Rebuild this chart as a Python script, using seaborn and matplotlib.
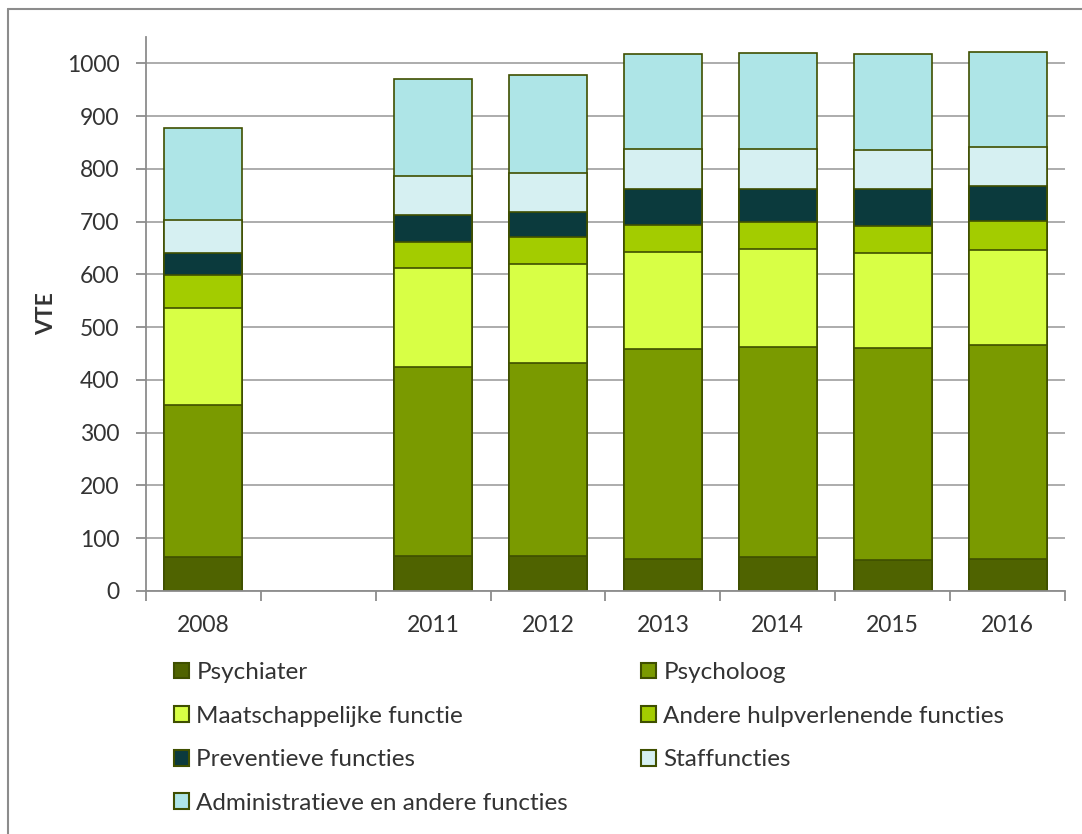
import numpy as np
import pandas as pd
import matplotlib.pyplot as plt
from matplotlib.patches import Patch
from matplotlib.lines import Line2D
import seaborn as sns

# data (VTE per year)
years = ['2008', '2011', '2012', '2013', '2014', '2015', '2016']
slots = ['2008', '', '2011', '2012', '2013', '2014', '2015', '2016']  # empty slot = gap 2009-2010
psychiater = [64, 66, 66, 61, 64, 59, 61]
psycholoog = [288, 358, 367, 398, 398, 402, 405]
maatschappelijk = [184, 188, 186, 184, 187, 179, 181]
andere = [63, 49, 51, 51, 50, 51, 54]
preventief = [42, 51, 49, 67, 62, 70, 67]
staf = [62, 75, 73, 77, 76, 75, 73]
admin = [175, 183, 186, 179, 182, 182, 180]

labels = ['Psychiater', 'Psycholoog', 'Maatschappelijke functie',
          'Andere hulpverlenende functies', 'Preventieve functies',
          'Staffuncties', 'Administratieve en andere functies']
colors = ['#4F6300', '#7A9A00', '#D8FF45', '#A3CC00', '#0B3A3D',
          '#D6F0F2', '#AEE5E7']
edge = '#3F4F00'

df = pd.DataFrame({'jaar': years, labels[0]: psychiater, labels[1]: psycholoog,
                   labels[2]: maatschappelijk, labels[3]: andere,
                   labels[4]: preventief, labels[5]: staf, labels[6]: admin})
cum = df[labels].cumsum(axis=1)

sns.set_theme(style='white')
plt.rcParams['font.family'] = ['Lato', 'DejaVu Sans']
txt = '#333333'

fig = plt.figure(figsize=(10.82, 8.34), dpi=100)
ax = fig.add_axes([0.1349, 0.2914, 0.8494, 0.6643])

# stacked bars: draw cumulative totals from the top layer down
for lab, col in zip(labels[::-1], colors[::-1]):
    sns.barplot(x=df['jaar'], y=cum[lab], order=slots, color=col, saturation=1,
                edgecolor=edge, linewidth=1.2, width=0.68, errorbar=None, ax=ax)

ax.set_ylim(0, 1050)
ax.set_xlim(-0.5, 7.5)
ax.set_yticks(range(0, 1001, 100))
ax.yaxis.grid(True, color='#A6A6A6', linewidth=1.3)
ax.set_axisbelow(True)
for s in ['top', 'right']:
    ax.spines[s].set_visible(False)
for s in ['left', 'bottom']:
    ax.spines[s].set_color('#8C8C8C')
    ax.spines[s].set_linewidth(1.3)

ax.set_xticks(np.arange(-0.5, 8, 1), minor=True)
ax.tick_params(axis='x', which='major', length=0, pad=17, labelsize=16.5, labelcolor=txt)
ax.tick_params(axis='x', which='minor', length=7, width=1.3, color='#8C8C8C', direction='out', bottom=True)
ax.tick_params(axis='y', length=7, width=1.3, color='#8C8C8C', direction='out', left=True,
               pad=12, labelsize=16.5, labelcolor=txt)
ax.set_xlabel('')
ax.set_ylabel('VTE', fontsize=16.5, fontweight='bold', color=txt)
ax.yaxis.set_label_coords(-0.097, 0.5)

handles = [Patch(facecolor=c, edgecolor=edge, linewidth=1.5) for c in colors]
kw = dict(frameon=False, fontsize=17.5, handlelength=0.62, handleheight=0.62,
          handletextpad=0.3, labelspacing=0.93, borderpad=0, borderaxespad=0,
          labelcolor=txt)
left_idx = [0, 2, 4, 6]
right_idx = [1, 3, 5]
leg1 = fig.legend([handles[i] for i in left_idx], [labels[i] for i in left_idx],
                  loc='upper left', bbox_to_anchor=(174 / 1082, 1 - 662 / 834), **kw)
leg2 = fig.legend([handles[i] for i in right_idx], [labels[i] for i in right_idx],
                  loc='upper left', bbox_to_anchor=(641 / 1082, 1 - 662 / 834), **kw)

# chart-area border (left and top edge visible)
fig.add_artist(Line2D([8 / 1082, 8 / 1082], [0, 1 - 9 / 834], transform=fig.transFigure,
                      color='#8C8C8C', linewidth=1.5))
fig.add_artist(Line2D([8 / 1082, 1], [1 - 9 / 834, 1 - 9 / 834], transform=fig.transFigure,
                      color='#8C8C8C', linewidth=1.5))

fig.savefig('out.png', dpi=100)
